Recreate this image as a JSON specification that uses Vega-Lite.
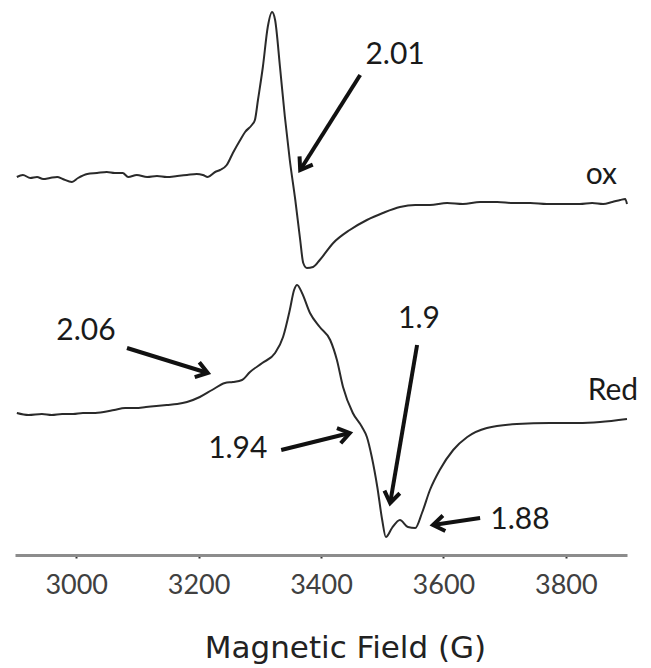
{
  "$schema": "https://vega.github.io/schema/vega-lite/v6.json",
  "width": 612,
  "height": 555,
  "autosize": {"type": "none"},
  "padding": {"left": 15, "top": 0, "right": 24, "bottom": 113},
  "background": "white",
  "config": {"view": {"stroke": null}},
  "datasets": {
    "spectra": [
      {"trace": "ox", "field": 2903, "signal": 378},
      {"trace": "ox", "field": 2913, "signal": 380},
      {"trace": "ox", "field": 2925, "signal": 377},
      {"trace": "ox", "field": 2936, "signal": 378},
      {"trace": "ox", "field": 2946, "signal": 376},
      {"trace": "ox", "field": 2957, "signal": 377},
      {"trace": "ox", "field": 2969, "signal": 378},
      {"trace": "ox", "field": 2978, "signal": 376},
      {"trace": "ox", "field": 2993, "signal": 373},
      {"trace": "ox", "field": 3003, "signal": 377},
      {"trace": "ox", "field": 3018, "signal": 381},
      {"trace": "ox", "field": 3034, "signal": 382},
      {"trace": "ox", "field": 3050, "signal": 383},
      {"trace": "ox", "field": 3063, "signal": 382},
      {"trace": "ox", "field": 3076, "signal": 382},
      {"trace": "ox", "field": 3085, "signal": 378},
      {"trace": "ox", "field": 3099, "signal": 380},
      {"trace": "ox", "field": 3116, "signal": 378},
      {"trace": "ox", "field": 3132, "signal": 379},
      {"trace": "ox", "field": 3148, "signal": 378},
      {"trace": "ox", "field": 3165, "signal": 379},
      {"trace": "ox", "field": 3181, "signal": 380},
      {"trace": "ox", "field": 3197, "signal": 381},
      {"trace": "ox", "field": 3207, "signal": 380},
      {"trace": "ox", "field": 3215, "signal": 378},
      {"trace": "ox", "field": 3227, "signal": 383},
      {"trace": "ox", "field": 3235, "signal": 385},
      {"trace": "ox", "field": 3246, "signal": 390},
      {"trace": "ox", "field": 3256, "signal": 402},
      {"trace": "ox", "field": 3268, "signal": 415},
      {"trace": "ox", "field": 3276, "signal": 423},
      {"trace": "ox", "field": 3287, "signal": 430},
      {"trace": "ox", "field": 3292, "signal": 435},
      {"trace": "ox", "field": 3297, "signal": 455},
      {"trace": "ox", "field": 3305, "signal": 488},
      {"trace": "ox", "field": 3313, "signal": 528},
      {"trace": "ox", "field": 3320, "signal": 543},
      {"trace": "ox", "field": 3325, "signal": 535},
      {"trace": "ox", "field": 3333, "signal": 488},
      {"trace": "ox", "field": 3341, "signal": 438},
      {"trace": "ox", "field": 3349, "signal": 395},
      {"trace": "ox", "field": 3358, "signal": 355},
      {"trace": "ox", "field": 3366, "signal": 315},
      {"trace": "ox", "field": 3371, "signal": 292},
      {"trace": "ox", "field": 3377, "signal": 287},
      {"trace": "ox", "field": 3387, "signal": 288},
      {"trace": "ox", "field": 3398, "signal": 295},
      {"trace": "ox", "field": 3420, "signal": 312},
      {"trace": "ox", "field": 3447, "signal": 325},
      {"trace": "ox", "field": 3475, "signal": 335},
      {"trace": "ox", "field": 3501, "signal": 342},
      {"trace": "ox", "field": 3529, "signal": 348},
      {"trace": "ox", "field": 3554, "signal": 350},
      {"trace": "ox", "field": 3578, "signal": 350},
      {"trace": "ox", "field": 3606, "signal": 352},
      {"trace": "ox", "field": 3632, "signal": 351},
      {"trace": "ox", "field": 3660, "signal": 353},
      {"trace": "ox", "field": 3688, "signal": 353},
      {"trace": "ox", "field": 3714, "signal": 352},
      {"trace": "ox", "field": 3742, "signal": 352},
      {"trace": "ox", "field": 3769, "signal": 351},
      {"trace": "ox", "field": 3795, "signal": 351},
      {"trace": "ox", "field": 3823, "signal": 351},
      {"trace": "ox", "field": 3843, "signal": 352},
      {"trace": "ox", "field": 3861, "signal": 351},
      {"trace": "ox", "field": 3876, "signal": 353},
      {"trace": "ox", "field": 3889, "signal": 355},
      {"trace": "ox", "field": 3897, "signal": 356},
      {"trace": "ox", "field": 3900, "signal": 351},
      {"trace": "Red", "field": 2903, "signal": 142},
      {"trace": "Red", "field": 2922, "signal": 140},
      {"trace": "Red", "field": 2944, "signal": 141},
      {"trace": "Red", "field": 2960, "signal": 140},
      {"trace": "Red", "field": 2977, "signal": 141},
      {"trace": "Red", "field": 2995, "signal": 141},
      {"trace": "Red", "field": 3011, "signal": 142},
      {"trace": "Red", "field": 3028, "signal": 142},
      {"trace": "Red", "field": 3045, "signal": 143},
      {"trace": "Red", "field": 3062, "signal": 145},
      {"trace": "Red", "field": 3080, "signal": 147},
      {"trace": "Red", "field": 3097, "signal": 147},
      {"trace": "Red", "field": 3114, "signal": 148},
      {"trace": "Red", "field": 3131, "signal": 149},
      {"trace": "Red", "field": 3148, "signal": 150},
      {"trace": "Red", "field": 3165, "signal": 151},
      {"trace": "Red", "field": 3181, "signal": 153},
      {"trace": "Red", "field": 3202, "signal": 158},
      {"trace": "Red", "field": 3222, "signal": 165},
      {"trace": "Red", "field": 3243, "signal": 172},
      {"trace": "Red", "field": 3256, "signal": 173},
      {"trace": "Red", "field": 3271, "signal": 175},
      {"trace": "Red", "field": 3284, "signal": 183},
      {"trace": "Red", "field": 3304, "signal": 192},
      {"trace": "Red", "field": 3325, "signal": 202},
      {"trace": "Red", "field": 3338, "signal": 218},
      {"trace": "Red", "field": 3349, "signal": 245},
      {"trace": "Red", "field": 3356, "signal": 265},
      {"trace": "Red", "field": 3361, "signal": 270},
      {"trace": "Red", "field": 3369, "signal": 262},
      {"trace": "Red", "field": 3382, "signal": 242},
      {"trace": "Red", "field": 3398, "signal": 228},
      {"trace": "Red", "field": 3415, "signal": 215},
      {"trace": "Red", "field": 3426, "signal": 195},
      {"trace": "Red", "field": 3436, "signal": 168},
      {"trace": "Red", "field": 3452, "signal": 142},
      {"trace": "Red", "field": 3467, "signal": 128},
      {"trace": "Red", "field": 3475, "signal": 118},
      {"trace": "Red", "field": 3483, "signal": 98},
      {"trace": "Red", "field": 3492, "signal": 68},
      {"trace": "Red", "field": 3500, "signal": 35},
      {"trace": "Red", "field": 3506, "signal": 18},
      {"trace": "Red", "field": 3516, "signal": 27},
      {"trace": "Red", "field": 3529, "signal": 35},
      {"trace": "Red", "field": 3542, "signal": 28},
      {"trace": "Red", "field": 3554, "signal": 27},
      {"trace": "Red", "field": 3565, "signal": 42},
      {"trace": "Red", "field": 3578, "signal": 65},
      {"trace": "Red", "field": 3594, "signal": 85},
      {"trace": "Red", "field": 3616, "signal": 105},
      {"trace": "Red", "field": 3639, "signal": 118},
      {"trace": "Red", "field": 3671, "signal": 127},
      {"trace": "Red", "field": 3720, "signal": 131},
      {"trace": "Red", "field": 3774, "signal": 132},
      {"trace": "Red", "field": 3820, "signal": 132},
      {"trace": "Red", "field": 3856, "signal": 133},
      {"trace": "Red", "field": 3900, "signal": 136}
    ],
    "labels": [
      {"text": "2.01", "field": 3521, "signal": 500},
      {"text": "ox", "field": 3858, "signal": 380},
      {"text": "2.06", "field": 3016, "signal": 224},
      {"text": "1.9", "field": 3560, "signal": 236},
      {"text": "1.94", "field": 3264, "signal": 106},
      {"text": "1.88", "field": 3725, "signal": 35},
      {"text": "Red", "field": 3877, "signal": 164}
    ],
    "arrows": [
      {"g": "2.01", "field": 3464, "signal": 480, "field2": 3366, "signal2": 385, "dir": 212},
      {"g": "2.06", "field": 3083, "signal": 207, "field2": 3215, "signal2": 182, "dir": 107},
      {"g": "1.9", "field": 3557, "signal": 210, "field2": 3513, "signal2": 52, "dir": 190},
      {"g": "1.94", "field": 3335, "signal": 105, "field2": 3447, "signal2": 122, "dir": 76},
      {"g": "1.88", "field": 3660, "signal": 37, "field2": 3583, "signal2": 30, "dir": 261}
    ]
  },
  "layer": [
    {
      "data": {"name": "spectra"},
      "mark": {"type": "line", "color": "#2a2a2a", "strokeWidth": 2, "interpolate": "monotone"},
      "encoding": {
        "x": {
          "field": "field", "type": "quantitative",
          "scale": {"domain": [2900, 3900], "nice": false, "zero": false},
          "axis": {
            "title": "Magnetic Field (G)",
            "values": [3000, 3200, 3400, 3600, 3800],
            "format": "d",
            "grid": false,
            "domainColor": "#8c8c8c", "domainWidth": 3,
            "tickColor": "#333333", "tickSize": 3, "tickWidth": 2,
            "labelFont": "Lato", "labelFontSize": 27, "labelColor": "#404040",
            "labelBaseline": "alphabetic", "labelPadding": 35,
            "titleFont": "DejaVu Sans", "titleFontSize": 31, "titleFontWeight": "normal", "titleColor": "#222222",
            "titleX": 330, "titleY": 102, "titleAlign": "center", "titleBaseline": "alphabetic"
          }
        },
        "y": {
          "field": "signal", "type": "quantitative",
          "scale": {"domain": [0, 555], "nice": false, "zero": false},
          "axis": null
        },
        "detail": {"field": "trace"},
        "order": {"field": "field"}
      }
    },
    {
      "data": {"name": "arrows"},
      "mark": {"type": "rule", "color": "#111111", "strokeWidth": 4},
      "encoding": {
        "x": {"field": "field", "type": "quantitative"},
        "y": {"field": "signal", "type": "quantitative"},
        "x2": {"field": "field2"},
        "y2": {"field": "signal2"}
      }
    },
    {
      "data": {"name": "arrows"},
      "mark": {"type": "point", "shape": "M-0.9,1.3L0,0L0.9,1.3", "filled": false, "color": "#111111", "strokeWidth": 4, "size": 300, "opacity": 1},
      "encoding": {
        "x": {"field": "field2", "type": "quantitative"},
        "y": {"field": "signal2", "type": "quantitative"},
        "angle": {"field": "dir", "type": "quantitative", "scale": null}
      }
    },
    {
      "data": {"name": "labels"},
      "mark": {"type": "text", "font": "Lato", "fontSize": 30, "color": "#1a1a1a", "baseline": "middle", "align": "center"},
      "encoding": {
        "x": {"field": "field", "type": "quantitative"},
        "y": {"field": "signal", "type": "quantitative"},
        "text": {"field": "text"}
      }
    }
  ]
}
